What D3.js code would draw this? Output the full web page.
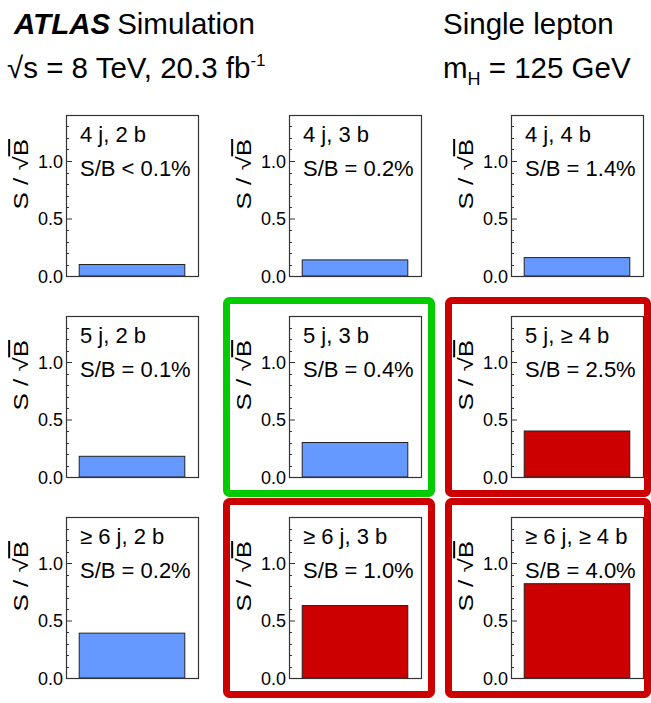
<!DOCTYPE html>
<html>
<head>
<meta charset="utf-8">
<script src="https://cdn.jsdelivr.net/npm/d3@7"></script>
<style>
  html, body { margin: 0; padding: 0; background: #fff; }
  svg { display: block; font-family: "Liberation Sans", Arial, Helvetica, sans-serif; }
</style>
</head>
<body>
<svg id="chart" width="651" height="703"></svg>
<script>
// Analysis regions, read row by row (jet multiplicity) and column by column (b-tag multiplicity)
const regionNames = [
  "4 j, 2 b", "4 j, 3 b", "4 j, 4 b",
  "5 j, 2 b", "5 j, 3 b", "5 j, \u2265 4 b",
  "\u2265 6 j, 2 b", "\u2265 6 j, 3 b", "\u2265 6 j, \u2265 4 b"
];
// Signal-to-background ratio quoted in each region
const sbLabels = [
  "S/B < 0.1%", "S/B = 0.2%", "S/B = 1.4%",
  "S/B = 0.1%", "S/B = 0.4%", "S/B = 2.5%",
  "S/B = 0.2%", "S/B = 1.0%", "S/B = 4.0%"
];
// S / sqrt(B) per region
const significance = [
  0.10, 0.14, 0.16,
  0.18, 0.30, 0.40,
  0.39, 0.63, 0.82
];
// Region role: signal-rich, ttbb-enriched control, or background-dominated
const regionRole = [
  "bkg", "bkg", "bkg",
  "bkg", "ttb", "sig",
  "bkg", "sig", "sig"
];
const yTicks = [0.0, 0.5, 1.0];
const yDomain = [0, 1.4];

const svg = d3.select("#chart");
const font = "'Liberation Sans', Arial, Helvetica, sans-serif";

// ---- header ----
const hdr = svg.append("g").attr("fill", "#000");
const t1 = hdr.append("text").attr("x", 14).attr("y", 34).attr("font-size", 29.5);
t1.append("tspan").attr("font-weight", "bold").attr("font-style", "italic").text("ATLAS");
t1.append("tspan").attr("dx", 7).text("Simulation");

const t2 = hdr.append("text").attr("x", 7).attr("y", 78).attr("font-size", 29.5);
t2.append("tspan").text("\u221As = 8 TeV, 20.3 fb");
t2.append("tspan").attr("font-size", 17).attr("dy", -12).text("-1");

hdr.append("text").attr("x", 443).attr("y", 34).attr("font-size", 29.5).text("Single lepton");
const t4 = hdr.append("text").attr("x", 443).attr("y", 78).attr("font-size", 29.5);
t4.append("tspan").text("m");
t4.append("tspan").attr("font-size", 18).attr("dy", 7).text("H");
t4.append("tspan").attr("dy", -7).text(" = 125 GeV");

// ---- panel grid ----
const colLeft = [66, 289, 511];
const rowTop = [115, 316, 517];
const frameW = 132, frameH = 161;

const fillOf = { bkg: "#6699ff", ttb: "#6699ff", sig: "#cc0000" };
const borderOf = { bkg: null, ttb: "#00cc00", sig: "#cc0000" };

regionNames.forEach((name, i) => {
  const r = Math.floor(i / 3), c = i % 3;
  const x0 = colLeft[c], y0 = rowTop[r];
  const g = svg.append("g");

  // highlight box around the region
  const bc = borderOf[regionRole[i]];
  if (bc) {
    const bx0 = x0 - 66, by0 = y0 - 19;
    const bx1 = Math.min(x0 + frameW + 14, 651), by1 = Math.min(y0 + frameH + 20, 703);
    g.append("rect")
      .attr("x", bx0 + 3.5).attr("y", by0 + 3.5)
      .attr("width", bx1 - bx0 - 7).attr("height", by1 - by0 - 7)
      .attr("rx", 3).attr("fill", "none")
      .attr("stroke", bc).attr("stroke-width", 7);
  }

  const x = d3.scaleLinear().domain([0, 1]).range([x0, x0 + frameW]);
  const y = d3.scaleLinear().domain(yDomain).range([y0 + frameH, y0]);

  // bar
  g.append("rect")
    .attr("x", x(0.1)).attr("y", y(significance[i]))
    .attr("width", x(0.9) - x(0.1))
    .attr("height", y(0) - y(significance[i]))
    .attr("fill", fillOf[regionRole[i]])
    .attr("stroke", "#222").attr("stroke-width", 1);

  // minor ticks (inward)
  const minor = d3.range(0, 1.4001, 0.1).filter(v => !yTicks.some(t => Math.abs(t - v) < 1e-6));
  g.append("g").selectAll("line").data(minor).join("line")
    .attr("x1", x0).attr("x2", x0 + 3)
    .attr("y1", d => Math.round(y(d)) + 0.5).attr("y2", d => Math.round(y(d)) + 0.5)
    .attr("stroke", "#333").attr("stroke-width", 1);

  // left axis with inward major ticks
  const ax = g.append("g").attr("transform", `translate(${x0},0)`)
    .call(d3.axisLeft(y).tickValues(yTicks).tickFormat(d3.format(".1f"))
      .tickSizeInner(-6).tickSizeOuter(0).tickPadding(4));
  ax.select(".domain").remove();
  ax.selectAll("line").attr("stroke", "#333");
  ax.selectAll("text")
    .attr("x", -3)
    .attr("font-family", font).attr("font-size", 18).attr("fill", "#000")
    .attr("dy", "0.36em");

  // frame
  g.append("rect")
    .attr("x", x0 + 0.5).attr("y", y0 + 0.5)
    .attr("width", frameW).attr("height", frameH)
    .attr("fill", "none").attr("stroke", "#333").attr("stroke-width", 1.2);

  // axis title: S / sqrt(B), stretched along the axis direction
  const tt = g.append("text")
    .attr("transform", `translate(${x0 - 38},${y0 + 24}) rotate(-90) scale(1.3,1)`)
    .attr("text-anchor", "end").attr("font-size", 20).attr("fill", "#000");
  tt.append("tspan").text("S / \u221A");
  tt.append("tspan").attr("text-decoration", "overline").text("B");

  // region labels
  g.append("text").attr("x", x0 + 14).attr("y", y0 + 27)
    .attr("font-size", 22).attr("fill", "#000").text(name);
  g.append("text").attr("x", x0 + 14).attr("y", y0 + 61)
    .attr("font-size", 22).attr("fill", "#000").text(sbLabels[i]);
});
</script>
</body>
</html>
